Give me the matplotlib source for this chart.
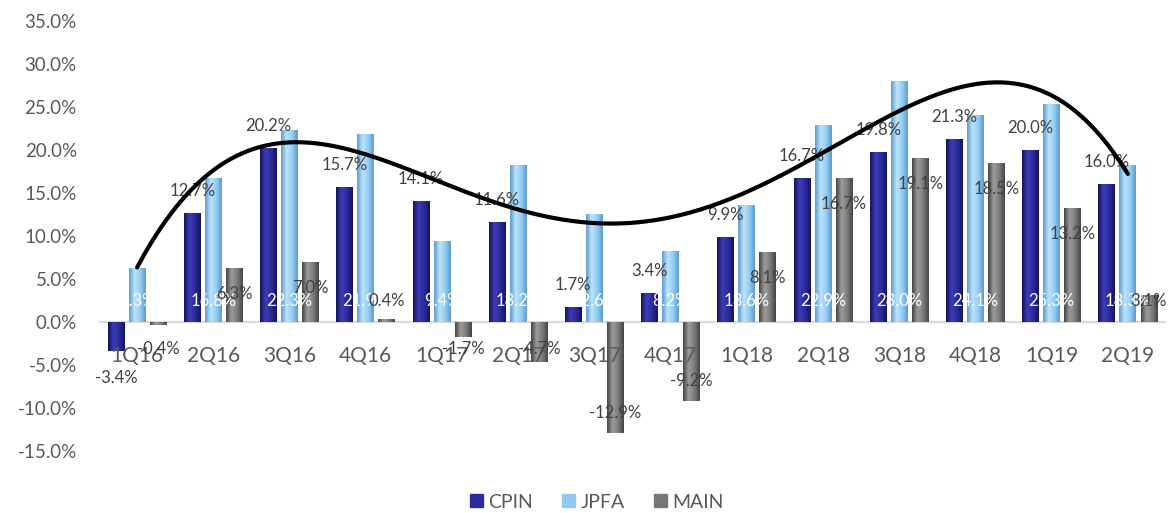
import matplotlib.pyplot as plt
import numpy as np
from matplotlib.colors import LinearSegmentedColormap
from matplotlib.patches import Patch

quarters = ['1Q16', '2Q16', '3Q16', '4Q16', '1Q17', '2Q17', '3Q17',
            '4Q17', '1Q18', '2Q18', '3Q18', '4Q18', '1Q19', '2Q19']
cpin = [-3.4, 12.7, 20.2, 15.7, 14.1, 11.6, 1.7, 3.4, 9.9, 16.7, 19.8, 21.3, 20.0, 16.0]
jpfa = [6.3, 16.8, 22.3, 21.9, 9.4, 18.2, 12.6, 8.2, 13.6, 22.9, 28.0, 24.1, 25.3, 18.3]
main = [-0.4, 6.3, 7.0, 0.4, -1.7, -4.7, -12.9, -9.2, 8.1, 16.7, 19.1, 18.5, 13.2, 3.1]

plt.rcParams['font.family'] = ['Lato', 'DejaVu Sans']

fig = plt.figure(figsize=(11.73, 5.13), dpi=100)
ax = fig.add_axes([0.0844, 0.121, 0.9096, 0.838])

x = np.arange(len(quarters))
w = 0.22
step = 0.276
grey = '#595959'
lab_size = 12

# horizontal shading across each bar to look like a rounded column
def shade(bar, colors):
    cmap = LinearSegmentedColormap.from_list('bar', colors)
    x0, y0 = bar.get_xy()
    grad = np.linspace(0, 1, 64).reshape(1, -1)
    im = ax.imshow(grad, cmap=cmap, aspect='auto', interpolation='bicubic',
                   extent=[x0, x0 + bar.get_width(), y0, y0 + bar.get_height()],
                   zorder=bar.get_zorder() + 0.1)
    im.set_clip_path(bar)

series = [
    ('CPIN', cpin, -step, '#2b2b9a', ['#14145a', '#3d3db8', '#2a2a9e', '#14145a']),
    ('JPFA', jpfa, 0.0, '#8ec9f2', ['#5b9bcc', '#bde3fb', '#93cdf3', '#5b9bcc']),
    ('MAIN', main, step, '#777777', ['#454545', '#9c9c9c', '#7c7c7c', '#454545']),
]

for name, vals, off, col, grad in series:
    bars = ax.bar(x + off, vals, w, color=col, zorder=3)
    for b in bars:
        shade(b, grad)

# data labels
for xi, v in zip(x, cpin):
    y = v + 2.55 if v >= 0 else v - 3.1
    ax.text(xi - step, y, f'{v:.1f}%', ha='center', va='center',
            fontsize=lab_size, color='#404040', zorder=6)
for xi, v in zip(x, jpfa):
    ax.text(xi, 2.4, f'{v:.1f}%', ha='center', va='center',
            fontsize=lab_size, color='white', zorder=6)
for xi, v in zip(x, main):
    y = max(v - 3.0, 2.4) if v >= 0 else min(v + 2.3, -3.1)
    ax.text(xi + step, y, f'{v:.1f}%', ha='center', va='center',
            fontsize=lab_size, color='#404040', zorder=6)

# JPFA polynomial trendline
coef = np.polyfit(x, jpfa, 4)
xs = np.linspace(x[0], x[-1], 300)
ax.plot(xs, np.polyval(coef, xs), color='black', lw=3, zorder=7,
        solid_capstyle='round')

ax.axhline(0, color='#d9d9d9', lw=1.5, zorder=2)

# category labels sit at the zero line, drawn over the bars
for xi, q in zip(x, quarters):
    ax.annotate(q, (xi, 0), xytext=(0, -24.5), textcoords='offset points',
                ha='center', va='center', fontsize=15, color=grey, zorder=5)

ax.set_xlim(-0.5, len(quarters) - 0.5)
ax.set_ylim(-15, 35)
ax.set_xticks([])
ax.set_yticks(np.arange(-15, 36, 5))
ax.set_yticklabels([f'{t:.1f}%' for t in np.arange(-15, 36, 5)])
ax.tick_params(axis='y', length=0, pad=16, labelsize=13.5, labelcolor=grey)
for s in ax.spines.values():
    s.set_visible(False)

handles = [Patch(color=c, label=n) for n, _, _, c, _ in series]
fig.legend(handles=handles, loc='center', bbox_to_anchor=(597 / 1173, 1 - 502 / 513),
           ncol=3, frameon=False, fontsize=14, handlelength=0.65, handleheight=0.65,
           handletextpad=0.3, columnspacing=1.5, labelcolor=grey)

fig.savefig('out.png', dpi=100)
